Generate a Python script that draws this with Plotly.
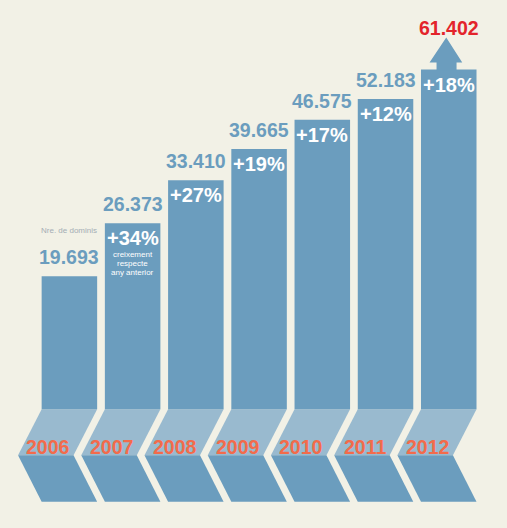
"""Domain registrations per year, 2006-2012 (infographic style)."""

import math

import plotly.graph_objects as go

# --- data -----------------------------------------------------------------
years = ["2006", "2007", "2008", "2009", "2010", "2011", "2012"]
domains = [19693, 26373, 33410, 39665, 46575, 52183, 61402]
value_caption = "Nre. de dominis"
growth_caption = ["creixement", "respecte", "any anterior"]

# --- look -----------------------------------------------------------------
BG = "#f2f1e6"
BAR = "#6b9dbe"
BAR_LIGHT = "#99bacf"
YEAR_COLOR = "#f36b4b"
LAST_COLOR = "#e3242b"
CAPTION_COLOR = "#a4adb5"
FONT = "Liberation Sans, Arial, sans-serif"

W, H = 507, 528
STEP_PX = 63.225          # horizontal distance between bars
FIRST_PX = 69.4           # centre of the first bar
BAR_W = 0.878             # bar width in category units
BASELINE_PX = 409.3       # bottom of the bars
PX_PER_DECADE = 418.7     # vertical (log) scale
BASE_LOG = 3.97668        # bars start here (log10 units)

BASE = 10 ** BASE_LOG
HALF_PX = BAR_W * STEP_PX / 2
SLANT = 23.6
BAND1, BAND2 = 46.0, 92.4


def fmt(v):
    return f"{v:,}".replace(",", ".")


fig = go.Figure()

idx = list(range(len(years)))
fig.add_trace(
    go.Bar(
        x=idx,
        y=[v - BASE for v in domains],
        base=BASE,
        width=BAR_W,
        marker={"color": BAR, "line": {"width": 0}},
        hoverinfo="skip",
    )
)

shapes = []
for i in idx:
    light = (f"M {-HALF_PX},0 L {HALF_PX},0 L {HALF_PX - SLANT},{-BAND1} "
             f"L {-HALF_PX - SLANT},{-BAND1} Z")
    dark = (f"M {-HALF_PX - SLANT},{-BAND1} L {HALF_PX - SLANT},{-BAND1} "
            f"L {HALF_PX},{-BAND2} L {-HALF_PX},{-BAND2} Z")
    for path, col in ((light, BAR_LIGHT), (dark, BAR)):
        shapes.append(dict(
            type="path", path=path, xref="x", yref="y",
            xsizemode="pixel", ysizemode="pixel", xanchor=i, yanchor=BASE,
            fillcolor=col, line={"width": 0}, layer="below",
        ))

# arrow on top of the last bar
arrow = "M -12.2,-1 L -12.2,7 L -19.2,7 L -2.5,32 L 13.5,7 L 7.8,7 L 7.8,-1 Z"
shapes.append(dict(
    type="path", path=arrow, xref="x", yref="y",
    xsizemode="pixel", ysizemode="pixel", xanchor=idx[-1], yanchor=domains[-1],
    fillcolor=BAR, line={"width": 0},
))

ann = []
for i, v in enumerate(domains):
    last = i == len(domains) - 1
    ly = math.log10(v)   # annotations on a log axis take log10 positions
    ann.append(dict(
        x=i, y=ly, xref="x", yref="y", text=f"<b>{fmt(v)}</b>", showarrow=False,
        yshift=42 if last else 19, yanchor="middle",
        font={"family": FONT, "size": 19.5, "color": LAST_COLOR if last else BAR},
    ))
    if i > 0:
        pct = round((v / domains[i - 1] - 1) * 100)
        ann.append(dict(
            x=i, y=ly, xref="x", yref="y", text=f"<b>+{pct}%</b>", showarrow=False,
            yshift=-15, yanchor="middle",
            font={"family": FONT, "size": 20, "color": "white"},
        ))
    ann.append(dict(
        x=i, y=BASE_LOG, xref="x", yref="y", text=f"<b>{years[i]}</b>",
        showarrow=False, yshift=-38, xshift=-21, yanchor="middle",
        font={"family": FONT, "size": 19.5, "color": YEAR_COLOR},
    ))

ann.append(dict(
    x=0, y=math.log10(domains[0]), xref="x", yref="y", text=value_caption,
    showarrow=False, yshift=46, yanchor="middle",
    font={"family": FONT, "size": 8, "color": CAPTION_COLOR},
))
for k, line in enumerate(growth_caption):
    ann.append(dict(
        x=1, y=math.log10(domains[1]), xref="x", yref="y", text=line,
        showarrow=False, yshift=-31 - 9 * k, yanchor="middle",
        font={"family": FONT, "size": 8, "color": "white"},
    ))

x_lo = -FIRST_PX / STEP_PX
x_hi = (W - FIRST_PX) / STEP_PX
y_hi = BASE_LOG + BASELINE_PX / PX_PER_DECADE
y_lo = BASE_LOG - (H - BASELINE_PX) / PX_PER_DECADE

fig.update_layout(
    width=W, height=H,
    margin={"l": 0, "r": 0, "t": 0, "b": 0},
    paper_bgcolor=BG, plot_bgcolor=BG,
    showlegend=False,
    xaxis={"range": [x_lo, x_hi], "visible": False, "fixedrange": True},
    yaxis={"type": "log", "range": [y_lo, y_hi], "visible": False,
           "fixedrange": True},
    shapes=shapes,
    annotations=ann,
)

fig.write_html(
    "out.html",
    config={"displayModeBar": False},
    post_script="document.body.style.margin = '0';",
)
